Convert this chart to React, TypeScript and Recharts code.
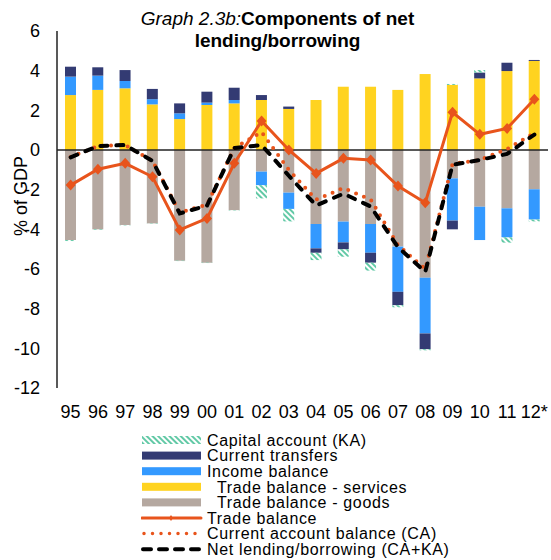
import { ComposedChart, Bar, Line, XAxis, YAxis, ReferenceLine } from "recharts";

const years = ["95", "96", "97", "98", "99", "00", "01", "02", "03", "04", "05", "06", "07", "08", "09", "10", "11", "12*"];

// % of GDP
const goods = [-4.54, -4.0, -3.78, -3.7, -5.58, -5.68, -3.03, -1.09, -2.15, -3.73, -3.61, -3.73, -4.87, -6.44, -1.43, -2.86, -2.94, -1.98];
const services = [2.77, 3.03, 3.11, 2.3, 1.56, 2.27, 2.35, 2.52, 2.07, 2.52, 3.19, 3.19, 3.03, 3.83, 3.28, 3.61, 3.98, 4.49];
const income = [0.93, 0.72, 0.37, 0.26, 0.29, 0.12, 0.17, -0.68, -0.82, -1.23, -1.05, -1.45, -2.28, -2.81, -2.13, -1.68, -1.46, -1.52];
const transfers = [0.5, 0.42, 0.55, 0.52, 0.5, 0.55, 0.62, 0.25, 0.12, -0.22, -0.34, -0.5, -0.67, -0.79, -0.44, 0.29, 0.42, 0.05];
const capital = [-0.05, -0.03, -0.02, -0.02, -0.02, -0.02, -0.02, -0.67, -0.63, -0.37, -0.38, -0.4, -0.11, -0.06, 0.05, 0.13, -0.27, -0.1];
const tradeBalance = [-1.77, -0.97, -0.67, -1.35, -4.03, -3.45, -0.67, 1.46, 0.0, -1.18, -0.42, -0.5, -1.82, -2.66, 1.9, 0.79, 1.09, 2.56];
const currentAccount = [-0.35, 0.2, 0.25, -0.55, -3.15, -2.75, 0.1, 0.9, -1.0, -2.5, -1.92, -2.5, -4.8, -6.0, -0.7, -0.5, 0.05, 0.85];
const netLending = [-0.37, 0.2, 0.25, -0.55, -3.2, -2.8, 0.1, 0.25, -1.3, -2.8, -2.2, -2.85, -4.9, -6.15, -0.75, -0.5, -0.2, 0.78];

const yTicks = [-12, -10, -8, -6, -4, -2, 0, 2, 4, 6];

const rows = years.map((year, i) => ({
  year,
  goods: goods[i],
  services: services[i],
  income: income[i],
  transfers: transfers[i],
  capital: capital[i],
  trade: tradeBalance[i],
  ca: currentAccount[i],
  nl: netLending[i],
}));

const FONT = '"Liberation Sans", Arial, sans-serif';
const YELLOW = "#FFD320";
const BLUE = "#3399FF";
const NAVY = "#333B73";
const GREY = "#B5A8A0";
const ORANGE = "#E8541C";
const TEAL = "#62C9A6";

function Diamond(props: any) {
  const { cx, cy } = props;
  if (cx == null || cy == null) return null;
  return (
    <path
      d={`M${cx},${cy - 5.5}L${cx + 5},${cy}L${cx},${cy + 5.5}L${cx - 5},${cy}Z`}
      fill={ORANGE}
    />
  );
}

const legendItems = [
  { label: "Capital account (KA)", kind: "hatch", indent: 0 },
  { label: "Current transfers", kind: NAVY, indent: 0 },
  { label: "Income balance", kind: BLUE, indent: 0 },
  { label: "Trade balance - services", kind: YELLOW, indent: 10 },
  { label: "Trade balance - goods", kind: GREY, indent: 10 },
  { label: "Trade balance", kind: "trade", indent: 0 },
  { label: "Current account balance (CA)", kind: "ca", indent: 0 },
  { label: "Net lending/borrowing (CA+KA)", kind: "nl", indent: 0 },
];

function Legend() {
  return (
    <svg width={410} height={134} style={{ position: "absolute", left: 141, top: 426 }}>
      <defs>
        <pattern id="kaHatchLegend" width="4" height="4" patternUnits="userSpaceOnUse" patternTransform="rotate(-45)">
          <rect width="2" height="4" fill={TEAL} />
        </pattern>
      </defs>
      {legendItems.map((it, i) => {
        const cy = 14 + 15.6 * i;
        let swatch;
        if (it.kind === "hatch") {
          swatch = <rect x={1} y={cy - 4} width={59} height={8} fill="url(#kaHatchLegend)" />;
        } else if (it.kind === "trade") {
          swatch = (
            <g>
              <line x1={1} x2={60} y1={cy} y2={cy} stroke={ORANGE} strokeWidth={3} strokeLinecap="round" />
              <path d={`M30,${cy - 3}L32,${cy}L30,${cy + 3}L28,${cy}Z`} fill={ORANGE} />
            </g>
          );
        } else if (it.kind === "ca") {
          swatch = <line x1={3} x2={60} y1={cy} y2={cy} stroke={ORANGE} strokeWidth={3.5} strokeDasharray="0 8.5" strokeLinecap="round" />;
        } else if (it.kind === "nl") {
          swatch = <line x1={2} x2={60} y1={cy} y2={cy} stroke="#000" strokeWidth={4} strokeDasharray="8 8" strokeLinecap="round" />;
        } else {
          swatch = <rect x={1} y={cy - 4} width={59} height={8} fill={it.kind} />;
        }
        return (
          <g key={it.label}>
            {swatch}
            <text
              x={66 + it.indent}
              y={cy}
              dy="0.36em"
              fontFamily={FONT}
              fontSize={16}
              letterSpacing={0.65}
              fill="#000"
            >
              {it.label}
            </text>
          </g>
        );
      })}
    </svg>
  );
}

export default function App() {
  return (
    <div style={{ position: "absolute", left: 0, top: 0, width: 551, height: 560, background: "#fff", fontFamily: FONT }}>
      <div style={{ position: "absolute", left: 0, top: 8, width: 555, textAlign: "center", fontSize: 19, lineHeight: "22px", color: "#000" }}>
        <span style={{ fontStyle: "italic" }}>Graph 2.3b:</span>
        <span style={{ fontWeight: "bold" }}>Components of net</span>
        <br />
        <span style={{ fontWeight: "bold" }}>lending/borrowing</span>
      </div>
      <div
        style={{
          position: "absolute",
          left: 21,
          top: 196,
          transform: "translate(-50%, -50%) rotate(-90deg)",
          fontSize: 18,
          whiteSpace: "nowrap",
          color: "#000",
        }}
      >
        % of GDP
      </div>
      <ComposedChart
        width={551}
        height={560}
        data={rows}
        stackOffset="sign"
        barGap={0}
        margin={{ top: 31, right: 3, bottom: 142, left: 0 }}
        style={{ position: "absolute", left: 0, top: 0 }}
      >
        <defs>
          <pattern id="kaHatch" width="4" height="4" patternUnits="userSpaceOnUse" patternTransform="rotate(-45)">
            <rect width="2" height="4" fill={TEAL} />
          </pattern>
        </defs>
        <XAxis
          dataKey="year"
          height={30}
          axisLine={false}
          tickLine={false}
          tickSize={0}
          tickMargin={17}
          interval={0}
          tick={{ fontSize: 18, fill: "#000", fontFamily: FONT }}
        />
        <YAxis
          width={57}
          domain={[-12, 6]}
          ticks={yTicks}
          interval={0}
          tickLine={false}
          tickSize={0}
          tickMargin={17}
          axisLine={{ stroke: "#222", strokeWidth: 1.5 }}
          tick={{ fontSize: 18, fill: "#000", fontFamily: FONT }}
        />
        <Bar dataKey="goods" stackId="a" fill={GREY} barSize={11} isAnimationActive={false} />
        <Bar dataKey="services" stackId="a" fill={YELLOW} barSize={11} isAnimationActive={false} />
        <Bar dataKey="income" stackId="a" fill={BLUE} barSize={11} isAnimationActive={false} />
        <Bar dataKey="transfers" stackId="a" fill={NAVY} barSize={11} isAnimationActive={false} />
        <Bar dataKey="capital" stackId="a" fill="url(#kaHatch)" barSize={11} isAnimationActive={false} />
        <ReferenceLine y={0} stroke="#222" strokeWidth={1.5} />
        <Line
          dataKey="trade"
          stroke={ORANGE}
          strokeWidth={3}
          dot={(p: any) => <Diamond key={`d${p.index}`} {...p} />}
          activeDot={false}
          isAnimationActive={false}
        />
        <Line
          dataKey="ca"
          stroke={ORANGE}
          strokeWidth={4}
          strokeDasharray="0 8.5"
          strokeLinecap="round"
          dot={false}
          activeDot={false}
          isAnimationActive={false}
        />
        <Line
          dataKey="nl"
          stroke="#000"
          strokeWidth={4}
          strokeDasharray="7 9"
          strokeLinecap="round"
          dot={false}
          activeDot={false}
          isAnimationActive={false}
        />
      </ComposedChart>
      <Legend />
    </div>
  );
}
